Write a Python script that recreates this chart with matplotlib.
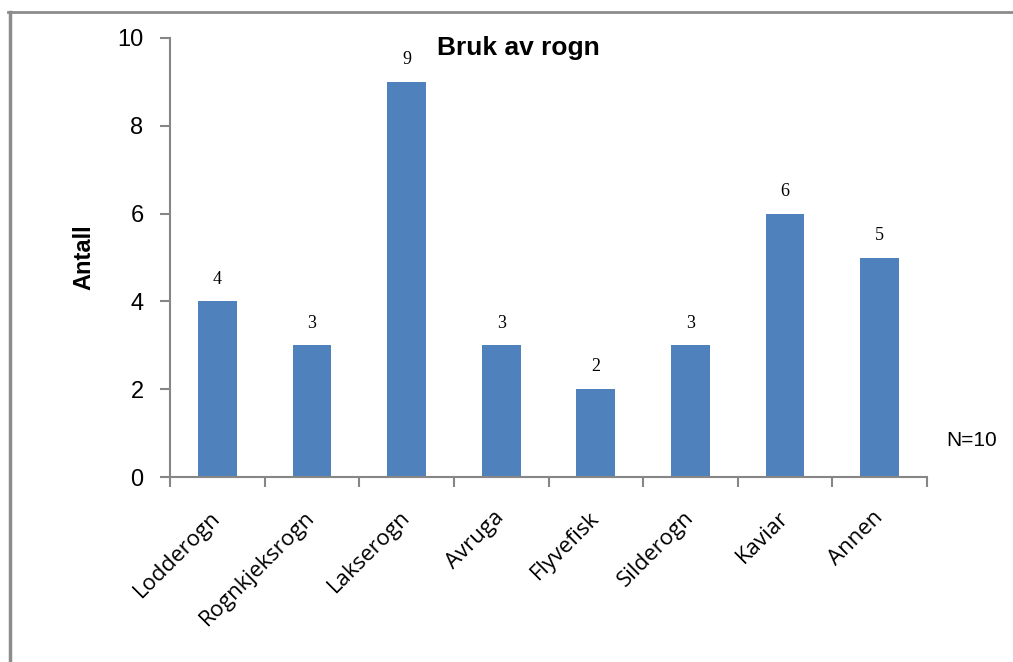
import matplotlib
matplotlib.use("Agg")
import matplotlib.pyplot as plt
from matplotlib.lines import Line2D

# Survey counts: which kinds of roe are used
categories = ["Lodderogn", "Rognkjeksrogn", "Lakserogn", "Avruga",
              "Flyvefisk", "Silderogn", "Kaviar", "Annen"]
counts = [4, 3, 9, 3, 2, 3, 6, 5]
y_ticks = [0, 2, 4, 6, 8, 10]
title = "Bruk av rogn"
y_label = "Antall"
n_note = "N=10"

bar_color = "#4F81BD"
axis_color = "#868686"

fig = plt.figure(figsize=(10.13, 6.62), dpi=100)
fig.patch.set_facecolor("white")

# outer chart frame (left and top edges)
fig.add_artist(Line2D([9.5 / 1013, 9.5 / 1013], [0, 1 - 12 / 662],
                      transform=fig.transFigure, color="#8c8c8c", lw=2.5))
fig.add_artist(Line2D([8 / 1013, 1], [1 - 12 / 662, 1 - 12 / 662],
                      transform=fig.transFigure, color="#8c8c8c", lw=2))

ax = fig.add_axes([170 / 1013, 1 - 477 / 662, (927 - 170) / 1013, (477 - 38) / 662])

x = list(range(len(categories)))
bars = ax.bar(x, counts, width=0.41, color=bar_color, zorder=2)

for xi, v in zip(x, counts):
    ax.annotate(str(v), (xi, v), xytext=(0, 16), textcoords="offset points",
                ha="center", va="center", fontsize=13, family="Liberation Serif")

ax.set_xlim(-0.5, len(categories) - 0.5)
ax.set_ylim(0, 10)
ax.set_yticks(y_ticks)
ax.set_yticklabels([str(t) for t in y_ticks], fontsize=17, family="Liberation Sans")

# category ticks sit between bars, labels under the bar centres
ax.set_xticks([i - 0.5 for i in range(len(categories) + 1)])
ax.set_xticklabels([])
ax.set_xticks(x, minor=True)
ax.set_xticklabels(categories, minor=True, rotation=45, ha="right", va="center",
                   rotation_mode="anchor", fontsize=16, family="Open Sans")
ax.tick_params(axis="x", which="minor", length=0, pad=27)
ax.tick_params(axis="x", which="major", length=7, width=1.5, color=axis_color,
               direction="out")
ax.tick_params(axis="y", length=7, width=1.5, color=axis_color, direction="out",
               pad=12)

for side in ["top", "right"]:
    ax.spines[side].set_visible(False)
for side in ["left", "bottom"]:
    ax.spines[side].set_color(axis_color)
    ax.spines[side].set_linewidth(1.5)

ax.set_ylabel(y_label, fontsize=17, fontweight="bold", family="Liberation Sans",
              labelpad=16)
fig.text(518 / 1013, 1 - 48 / 662, title, ha="center", va="center",
         fontsize=19, fontweight="bold", family="Liberation Sans")
fig.text(972 / 1013, 1 - 440 / 662, n_note, ha="center", va="center",
         fontsize=15, family="Liberation Sans")

fig.savefig("out.png", dpi=100)
